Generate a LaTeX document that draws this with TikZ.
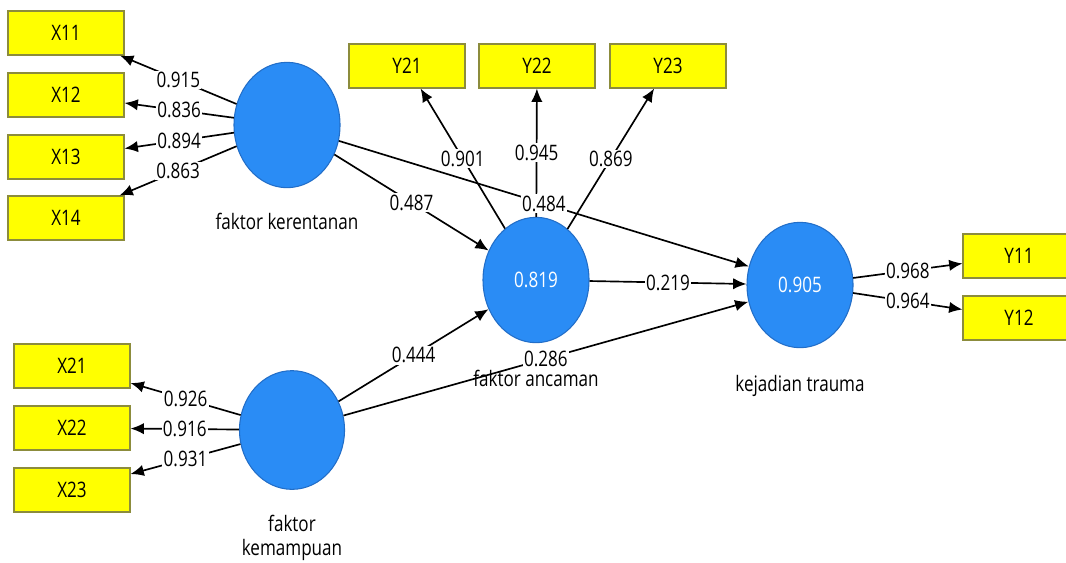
\documentclass[tikz,border=0pt]{standalone}
\usepackage{fontspec}
\setmainfont{Open Sans}[FakeStretch=0.8]
\usetikzlibrary{positioning,shapes.geometric,arrows.meta}
\definecolor{lvblue}{RGB}{42,140,245}
\definecolor{lvedge}{RGB}{34,110,200}
\definecolor{indyellow}{RGB}{255,255,0}
\definecolor{indedge}{RGB}{140,140,60}

\begin{document}
\begin{tikzpicture}[
        x=0.75pt, y=-0.75pt,
        font=\fontsize{16}{18.5}\selectfont,
        >={Latex[length=10pt,width=8.5pt]},
        line width=1.25pt,
        indicator/.style={draw=indedge, line width=0.8pt, fill=indyellow, minimum width=87pt, minimum height=33pt, inner sep=0pt},
        latent/.style={ellipse, draw=lvedge, line width=0.8pt, fill=lvblue, text=white, minimum width=79.5pt, minimum height=94pt, inner sep=0pt},
        coef/.style={fill=white, inner sep=1pt},
        caption/.style={inner sep=0pt, align=center}]
        \useasboundingbox (0,0) rectangle (1066,562);
        % NODES
        % indicators of faktor kerentanan
        \node[indicator] (X11) at (66,33) {X11};
        \node[indicator] (X12) at (66,95) {X12};
        \node[indicator] (X13) at (66,157) {X13};
        \node[indicator] (X14) at (66,218) {X14};
        % indicators of faktor kemampuan
        \node[indicator] (X21) at (72,366) {X21};
        \node[indicator] (X22) at (72,428) {X22};
        \node[indicator] (X23) at (72,490) {X23};
        % indicators of faktor ancaman
        \node[indicator] (Y21) at (407,66) {Y21};
        \node[indicator] (Y22) at (537,66) {Y22};
        \node[indicator] (Y23) at (668,66) {Y23};
        % indicators of kejadian trauma
        \node[indicator, minimum width=84pt] (Y11) at (1019,256) {Y11};
        \node[indicator, minimum width=84pt] (Y12) at (1019,318) {Y12};
        % latent variables
        \node[latent] (kerentanan) at (287,125) {};
        \node[latent, minimum width=78.75pt, minimum height=89pt] (kemampuan) at (292,430) {};
        \node[latent] (ancaman) at (536,280) {0.819};
        \node[latent] (kejadian) at (800,285) {0.905};

        % ARROWS
        % outer loadings
        \draw[->] (kerentanan) -- node[coef] {0.915} (X11);
        \draw[->] (kerentanan) -- node[coef] {0.836} (X12);
        \draw[->] (kerentanan) -- node[coef] {0.894} (X13);
        \draw[->] (kerentanan) -- node[coef] {0.863} (X14);
        \draw[->] (kemampuan) -- node[coef] {0.926} (X21);
        \draw[->] (kemampuan) -- node[coef] {0.916} (X22);
        \draw[->] (kemampuan) -- node[coef] {0.931} (X23);
        \draw[->] (ancaman) -- node[coef] {0.901} (Y21);
        \draw[->] (ancaman) -- node[coef] {0.945} (Y22);
        \draw[->] (ancaman) -- node[coef] {0.869} (Y23);
        \draw[->] (kejadian) -- node[coef] {0.968} (Y11);
        \draw[->] (kejadian) -- node[coef] {0.964} (Y12);
        % path coefficients
        \draw[->] (kerentanan) -- node[coef] {0.487} (ancaman);
        \draw[->] (kerentanan) -- node[coef] {0.484} (kejadian.160);
        \draw[->] (kemampuan) -- node[coef] {0.444} (ancaman);
        \draw[->] (kemampuan) -- node[coef] {0.286} (kejadian.198);
        \draw[->] (ancaman) -- node[coef] {0.219} (kejadian);

        % CAPTIONS
        \node[caption, below=18pt of kerentanan] (Capkerentanan) {faktor kerentanan};
        \node[caption, below=18pt of kemampuan] (Capkemampuan) {faktor\\kemampuan};
        \node[caption, below=19.5pt of ancaman] (Capancaman) {faktor ancaman};
        \node[caption, below=19.5pt of kejadian] (Capkejadian) {kejadian trauma};
    \end{tikzpicture}
\end{document}
